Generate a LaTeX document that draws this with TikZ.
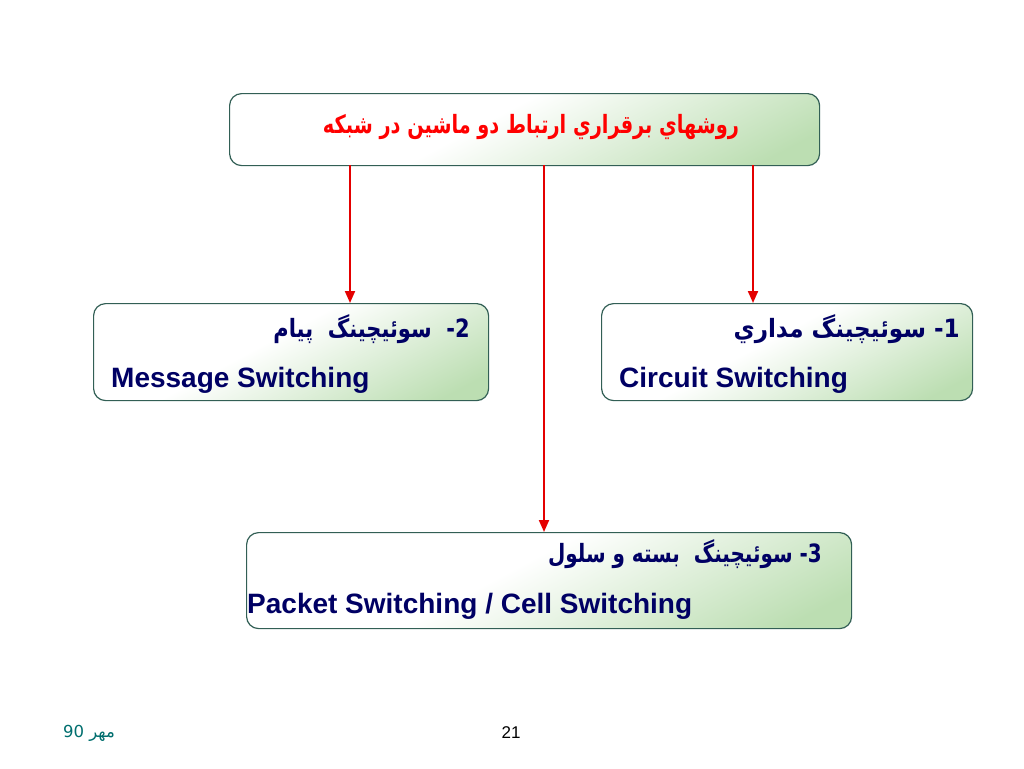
\documentclass[tikz,border=0pt]{standalone}
\usepackage{fontspec}
\setmainfont{Liberation Sans}
\newfontfamily\arabicfont[Script=Arabic]{DejaVu Sans}
\TeXXeTstate=1
\usetikzlibrary{arrows.meta}
\definecolor{boxgreen}{RGB}{188,222,178}
\definecolor{boxborder}{RGB}{50,95,85}
\definecolor{navy}{RGB}{0,0,100}
\definecolor{arrred}{RGB}{228,0,0}
\definecolor{footteal}{RGB}{0,110,110}
\pgfdeclarehorizontalshading{boxshade}{100bp}{color(0bp)=(white); color(25bp)=(white); color(45bp)=(white); color(78bp)=(boxgreen); color(100bp)=(boxgreen)}
\tikzset{
  box/.style={draw=boxborder, line width=1.2pt, rounded corners=12pt, shading=boxshade, shading angle=-62, anchor=north west, inner sep=0pt},
  arlabel/.style={font=\arabicfont\bfseries\fontsize{21}{24}\selectfont, text=navy, inner sep=0pt, anchor=east},
  enlabel/.style={font=\bfseries\fontsize{28}{32}\selectfont, text=navy, inner sep=0pt, anchor=west},
  link/.style={draw=arrred, line width=2pt, -{Triangle[length=12pt,width=10pt]}},
}
\begin{document}
\begin{tikzpicture}[x=1pt,y=-1pt]
\useasboundingbox (0,0) rectangle (1024,768);
% boxes
\node[box, minimum width=590pt, minimum height=72pt] (top) at (229,93) {};
\node[box, minimum width=395pt, minimum height=97pt] (msg) at (93,303) {};
\node[box, minimum width=371pt, minimum height=97pt] (circ) at (601,303) {};
\node[box, minimum width=605pt, minimum height=96pt] (pack) at (246,532) {};
% title
\node[font=\arabicfont\bfseries\fontsize{21}{24}\selectfont, text=red, inner sep=0pt] (title) at (531,127) {\scalebox{0.92}[1.2]{\beginR روشهاي برقراري ارتباط دو ماشين در شبكه\endR}};
% box texts
\node[arlabel] (c1) at (960,329) {\scalebox{1.1}[1.2]{\beginR 1- سوئيچينگ مداري\endR}};
\node[enlabel] (c2) at (619,380) {Circuit Switching};
\node[arlabel] (m1) at (470,329) {\scalebox{1.0}[1.2]{\beginR 2-\ \ سوئيچينگ\ \ پيام\endR}};
\node[enlabel] (m2) at (111,380) {Message Switching};
\node[arlabel] (p1) at (822,554) {\scalebox{0.95}[1.2]{\beginR 3- سوئيچينگ\ \ بسته و سلول\endR}};
\node[enlabel] (p2) at (247,606) {Packet Switching / Cell Switching};
% connectors
\coordinate (sL) at (350,165);
\coordinate (sM) at (544,165);
\coordinate (sR) at (753,165);
\draw[link] (sL) -- (sL |- msg.north);
\draw[link] (sM) -- (sM |- pack.north);
\draw[link] (sR) -- (sR |- circ.north);
% footer
\node[font=\arabicfont\fontsize{16.5}{19}\selectfont, text=footteal, inner sep=0pt] (date) at (89,733) {\beginR مهر \beginL 90\endL\endR};
\node[font=\fontsize{17}{20}\selectfont, inner sep=0pt] (page) at (511,733) {21};
\end{tikzpicture}
\end{document}
